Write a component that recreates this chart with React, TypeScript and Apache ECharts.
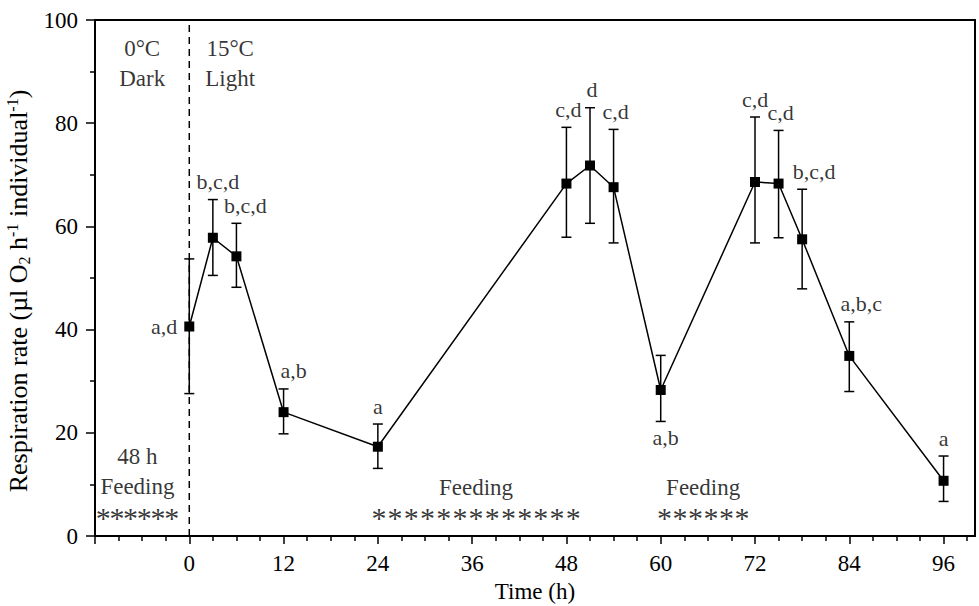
import React, { useEffect, useRef } from "react";
import * as echarts from "echarts";

const times = [0, 3, 6, 12, 24, 48, 51, 54, 60, 72, 75, 78, 84, 96];
const means = [40.6, 57.8, 54.2, 24.0, 17.3, 68.3, 71.8, 67.6, 28.3, 68.6, 68.3, 57.5, 34.9, 10.7];
const upper = [53.7, 65.2, 60.6, 28.5, 21.7, 79.2, 83.0, 78.8, 35.0, 81.2, 78.6, 67.2, 41.5, 15.5];
const lower = [27.6, 50.5, 48.2, 19.8, 13.1, 57.9, 60.6, 56.8, 22.2, 56.8, 57.8, 47.9, 28.0, 6.7];
const letters = ["a,d", "b,c,d", "b,c,d", "a,b", "a", "c,d", "d", "c,d", "a,b", "c,d", "c,d", "b,c,d", "a,b,c", "a"];
const majorTicks = [0, 12, 24, 36, 48, 60, 72, 84, 96];
const yTicks = [0, 20, 40, 60, 80, 100];

const FONT = "'Liberation Serif', 'Times New Roman', serif";

// label placement (style), per point
const placement = ["left", "top", "top", "top", "top", "top", "top", "top", "bottom", "top", "top", "top", "top", "top"];
const dxs = [0, 5, 9, 10, 0, 2, 2, 2, 5, 0, 2, 12, 12, 0];

const stars = (n: number, key: string) => Array(n).fill(`{${key}|*}`).join("");

export default function App() {
  const ref = useRef<HTMLDivElement>(null);
  useEffect(() => {
    document.body.style.margin = "0";
    if (!ref.current) return;
    const chart = echarts.init(ref.current, null, { renderer: "svg" });
    const minorTicks: number[] = [];
    for (let v = -12; v <= 100; v += 3) if (v % 12 !== 0) minorTicks.push(v);

    const labelData = times.map((t, i) => {
      const p = placement[i];
      const y = p === "top" ? upper[i] : p === "bottom" ? lower[i] : means[i];
      return {
        value: [t, y],
        label: {
          show: true,
          formatter: letters[i],
          position: p,
          distance: p === "left" ? 12 : p === "bottom" ? 5 : 7,
          offset: [dxs[i], 0],
        },
      };
    });

    const textStyle = { fontFamily: FONT, fontSize: 23, color: "#000" };
    const starStyle = (w: number) => ({ fontFamily: FONT, fontSize: 30, color: "#000", width: w, align: "center", lineHeight: 30, padding: [1, 0, 0, 0] });

    const annotations = [
      { value: [-6, 91.6], text: "0°C\nDark" },
      { value: [5.2, 91.6], text: "15°C\nLight" },
      { value: [-6.6, 9.5], text: "48 h\nFeeding\n" + stars(6, "s1") },
      { value: [36.5, 6.5], text: "Feeding\n" + stars(13, "s2") },
      { value: [65.4, 6.5], text: "Feeding\n" + stars(6, "s3") },
    ];

    chart.setOption({
      animation: false,
      grid: {
        left: 95,
        right: 4,
        top: 20,
        bottom: 70,
        show: true,
        borderColor: "#000",
        borderWidth: 2,
        containLabel: false,
        outerBoundsMode: "none",
      },
      xAxis: [
        {
          type: "value",
          min: -12,
          max: 100,
          name: "Time (h)",
          nameLocation: "middle",
          nameGap: 43,
          nameTextStyle: textStyle,
          axisLine: { show: true, onZero: false, lineStyle: { color: "#000", width: 2 } },
          axisTick: { show: true, customValues: [-12, ...majorTicks], length: 8, lineStyle: { color: "#000", width: 1.5 } },
          axisLabel: { customValues: majorTicks, margin: 16, ...textStyle },
          splitLine: { show: false },
        },
        {
          type: "value",
          min: -12,
          max: 100,
          position: "bottom",
          axisLine: { show: false, onZero: false },
          axisTick: { show: true, customValues: minorTicks, length: 5, lineStyle: { color: "#000", width: 1.5 } },
          axisLabel: { show: false },
          splitLine: { show: false },
        },
      ],
      yAxis: {
        type: "value",
        min: 0,
        max: 100,
        interval: 20,
        position: "left",
        name: "Respiration rate (µl O{sub|2} h{sup|-1} individual{sup|-1})",
        nameLocation: "middle",
        nameGap: 44,
        nameTextStyle: {
          fontFamily: FONT,
          fontSize: 26,
          color: "#000",
          lineHeight: 28,
          padding: [0, 26, 0, 0],
          rich: {
            sub: { fontFamily: FONT, fontSize: 16, color: "#000", verticalAlign: "bottom", lineHeight: 15 },
            sup: { fontFamily: FONT, fontSize: 16, color: "#000", verticalAlign: "top", lineHeight: 15 },
          },
        },
        axisLine: { show: true, onZero: false, lineStyle: { color: "#000", width: 2 } },
        axisTick: { show: true, length: 9, lineStyle: { color: "#000", width: 1.5 } },
        minorTick: { show: true, splitNumber: 2, length: 5, lineStyle: { color: "#000", width: 1.5 } },
        axisLabel: { margin: 17, ...textStyle, formatter: (v: number) => (yTicks.includes(v) ? String(v) : "") },
        splitLine: { show: false },
        minorSplitLine: { show: false },
      },
      series: [
        {
          type: "line",
          xAxisIndex: 0,
          data: [
            [0, 0],
            [0, 100],
          ],
          symbol: "none",
          silent: true,
          z: 1,
          lineStyle: { color: "#000", width: 1.5, type: [7, 5], dashOffset: 0 },
        },
        {
          type: "custom",
          xAxisIndex: 0,
          data: times.map((t, i) => [t, lower[i], upper[i]]),
          encode: { x: 0, y: [1, 2] },
          z: 2,
          silent: true,
          renderItem: (params: any, api: any) => {
            const x = api.value(0);
            const pLo = api.coord([x, api.value(1)]);
            const pHi = api.coord([x, api.value(2)]);
            const w = 5;
            const st = { stroke: "#000", lineWidth: 1.5 };
            return {
              type: "group",
              children: [
                { type: "line", shape: { x1: pLo[0], y1: pLo[1], x2: pHi[0], y2: pHi[1] }, style: st },
                { type: "line", shape: { x1: pLo[0] - w, y1: pLo[1], x2: pLo[0] + w, y2: pLo[1] }, style: st },
                { type: "line", shape: { x1: pHi[0] - w, y1: pHi[1], x2: pHi[0] + w, y2: pHi[1] }, style: st },
              ],
            };
          },
        },
        {
          type: "line",
          xAxisIndex: 0,
          data: times.map((t, i) => [t, means[i]]),
          symbol: "rect",
          symbolSize: 10,
          showAllSymbol: true,
          itemStyle: { color: "#000" },
          lineStyle: { color: "#000", width: 1.5 },
          z: 3,
        },
        {
          type: "scatter",
          xAxisIndex: 0,
          data: labelData,
          symbolSize: 0,
          silent: true,
          z: 4,
          label: { show: true, ...textStyle, fontSize: 22 },
        },
        {
          type: "scatter",
          xAxisIndex: 0,
          data: annotations.map((a) => ({ value: a.value, label: { formatter: a.text } })),
          symbolSize: 0,
          silent: true,
          z: 4,
          label: {
            show: true,
            position: "inside",
            ...textStyle,
            lineHeight: 30,
            align: "center",
            verticalAlign: "middle",
            rich: { s1: starStyle(13.7), s2: starStyle(16.2), s3: starStyle(15.5) },
          },
        },
      ],
    });
    return () => chart.dispose();
  }, []);
  return <div ref={ref} style={{ width: 979, height: 606 }} />;
}
